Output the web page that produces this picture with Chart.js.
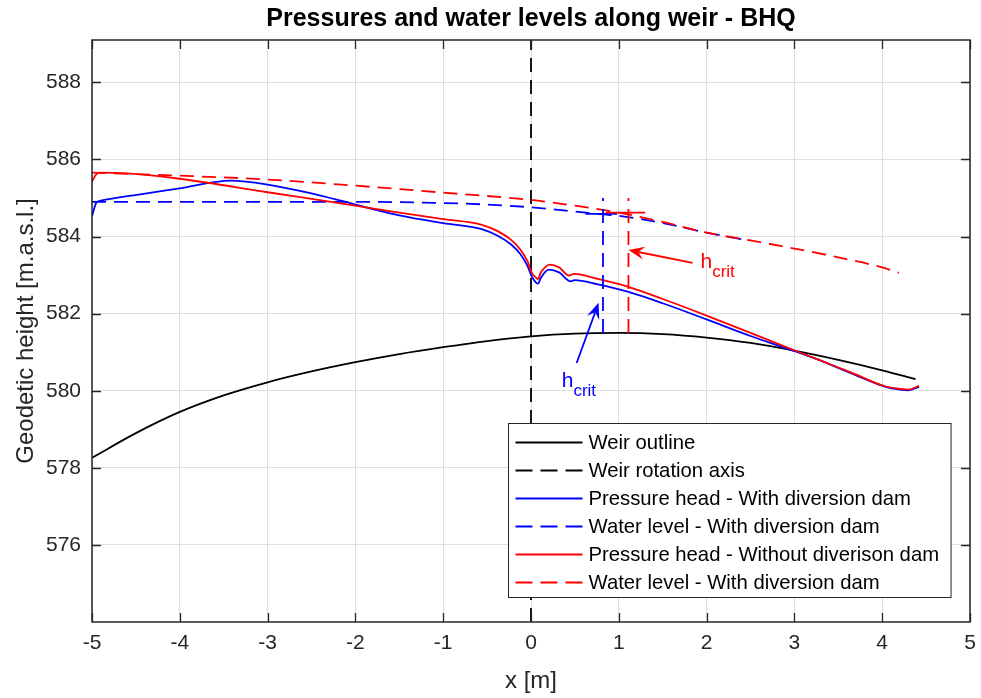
<!DOCTYPE html>
<html>
<head>
<meta charset="utf-8">
<title>Pressures and water levels along weir - BHQ</title>
<script src="https://cdn.jsdelivr.net/npm/chart.js@4.4.1/dist/chart.umd.min.js"></script>
<style>
  html, body { margin: 0; padding: 0; background: #fff; }
  #wrap { width: 981px; height: 698px; position: relative; }
</style>
</head>
<body>
<div id="wrap"><canvas id="weirChart"></canvas></div>
<script>
const FONT = "'Liberation Sans', Arial, Helvetica, sans-serif";
const TITLE = 'Pressures and water levels along weir - BHQ';

// axis limits and ticks
const xMin = -5, xMax = 5;
const yMin = 574, yMax = 589.1;
const xTicks = [-5, -4, -3, -2, -1, 0, 1, 2, 3, 4, 5];
const yTicks = [576, 578, 580, 582, 584, 586, 588];

// weir crest outline
const weirX = [-5, -4.5, -4, -3.5, -3, -2.5, -2, -1.5, -1, -0.5, 0, 0.5, 1, 1.5, 2, 2.5, 3, 3.5, 4, 4.38];
const weirY = [578.26, 578.9, 579.45, 579.88, 580.22, 580.5, 580.74, 580.95, 581.13, 581.29, 581.41, 581.48, 581.5, 581.47, 581.38, 581.24, 581.04, 580.8, 580.53, 580.3];

// rotation axis at x = 0
const rotAxisX = [0, 0];
const rotAxisY = [yMin, yMax];

// pressure head, with diversion dam
const phWithX = [-5, -4.95, -4.9, -4.47, -4, -3.42, -3, -2.5, -2, -1.5, -1, -0.57, -0.38, -0.23, -0.12, -0.04, 0.01, 0.06, 0.08, 0.11, 0.16, 0.2, 0.32, 0.45, 0.5, 0.76, 1.1, 1.5, 2, 2.5, 3, 3.3, 3.65, 4.04, 4.2, 4.3, 4.42];
const phWithY = [584.53, 584.88, 584.93, 585.09, 585.25, 585.45, 585.35, 585.12, 584.83, 584.55, 584.35, 584.2, 584.02, 583.8, 583.54, 583.24, 582.96, 582.8, 582.78, 582.92, 583.08, 583.14, 583.07, 582.84, 582.87, 582.76, 582.57, 582.27, 581.85, 581.42, 581.03, 580.78, 580.45, 580.1, 580.03, 580.01, 580.1];

// water level, with diversion dam
const wlWithX = [-5, -4, -3, -2, -1, -0.5, 0, 0.5, 0.8, 1, 1.5, 2, 2.4];
const wlWithY = [584.9, 584.9, 584.9, 584.9, 584.87, 584.83, 584.76, 584.65, 584.58, 584.54, 584.35, 584.1, 583.93];

// pressure head, without diversion dam
const phWithoutX = [-5, -4.95, -4.9, -4.6, -4, -3, -2, -1.5, -1, -0.57, -0.38, -0.23, -0.12, -0.04, 0.01, 0.06, 0.08, 0.11, 0.16, 0.21, 0.32, 0.43, 0.49, 0.76, 1.1, 1.5, 2, 2.5, 3, 3.3, 3.65, 4.04, 4.2, 4.3, 4.42];
const phWithoutY = [585.43, 585.62, 585.66, 585.64, 585.5, 585.15, 584.8, 584.62, 584.45, 584.31, 584.14, 583.92, 583.66, 583.36, 583.06, 582.93, 582.9, 583.06, 583.2, 583.27, 583.2, 582.99, 583.03, 582.9, 582.7, 582.38, 581.95, 581.5, 581.05, 580.78, 580.47, 580.11, 580.05, 580.03, 580.13];

// water level (second case)
const wlWithoutX = [-5, -4, -3, -2, -1, 0, 0.5, 1, 1.5, 2, 2.5, 3, 3.5, 4, 4.19];
const wlWithoutY = [585.66, 585.58, 585.48, 585.32, 585.14, 584.95, 584.8, 584.62, 584.38, 584.1, 583.9, 583.69, 583.46, 583.2, 583.06];

// critical depth markers
const critBlueX = [0.82, 0.82];
const critBlueY = [581.5, 585.0];
const critBlueBarX = [0.62, 0.98];
const critBlueBarY = [584.59, 584.59];
const critRedX = [1.11, 1.11];
const critRedY = [581.5, 585.0];
const critRedBarX = [0.85, 1.3];
const critRedBarY = [584.62, 584.62];

// arrows [from, to] and label anchors (data units)
const arrowBlue = [[0.52, 580.72], [0.77, 582.28]];
const arrowRed = [[1.84, 583.32], [1.11, 583.65]];
const labelBlue = [0.35, 580.1];
const labelRed = [1.93, 583.19];

const BLUE = '#0000ff', RED = '#ff0000', BLACK = '#000000';
const DASH = [14, 8];
const LEGEND_DASH = [17, 8];

const pts = (xs, ys) => xs.map((x, i) => ({ x: x, y: ys[i] }));

const lineSet = (label, xs, ys, color, dashed, order, smooth) => ({
    label: label,
    data: pts(xs, ys),
    borderColor: color,
    backgroundColor: color,
    borderWidth: 1.8,
    borderDash: dashed ? DASH : [],
    pointRadius: 0,
    fill: false,
    tension: 0,
    cubicInterpolationMode: smooth ? 'monotone' : 'default',
    order: order
});

const datasets = [
    lineSet('Weir outline', weirX, weirY, BLACK, false, 20, true),
    lineSet('Weir rotation axis', rotAxisX, rotAxisY, BLACK, true, 19),
    lineSet('Pressure head - With diversion dam', phWithX, phWithY, BLUE, false, 18, true),
    lineSet('Water level - With diversion dam', wlWithX, wlWithY, BLUE, true, 17, true),
    lineSet('Pressure head - Without diverison dam', phWithoutX, phWithoutY, RED, false, 16, true),
    lineSet('Water level - With diversion dam', wlWithoutX, wlWithoutY, RED, true, 15, true),
    lineSet('', critBlueX, critBlueY, BLUE, true, 14),
    lineSet('', critBlueBarX, critBlueBarY, BLUE, false, 13),
    lineSet('', critRedX, critRedY, RED, true, 12),
    lineSet('', critRedBarX, critRedBarY, RED, false, 11)
];
const LEGEND_COUNT = 6;

function drawArrow(ctx, x0, y0, x1, y1, color) {
    const ang = Math.atan2(y1 - y0, x1 - x0);
    const c = Math.cos(ang), s = Math.sin(ang);
    const len = 16, half = 6.5, notch = 10;
    ctx.strokeStyle = color;
    ctx.fillStyle = color;
    ctx.lineWidth = 1.8;
    ctx.beginPath();
    ctx.moveTo(x0, y0);
    ctx.lineTo(x1 - c * notch, y1 - s * notch);
    ctx.stroke();
    ctx.beginPath();
    ctx.moveTo(x1, y1);
    ctx.lineTo(x1 - len * c + half * s, y1 - len * s - half * c);
    ctx.lineTo(x1 - notch * c, y1 - notch * s);
    ctx.lineTo(x1 - len * c - half * s, y1 - len * s + half * c);
    ctx.closePath();
    ctx.fill();
}

function drawCritLabel(ctx, x, y, color) {
    ctx.fillStyle = color;
    ctx.textAlign = 'left';
    ctx.textBaseline = 'alphabetic';
    ctx.font = '21px ' + FONT;
    ctx.fillText('h', x, y);
    const w = ctx.measureText('h').width;
    ctx.font = '17px ' + FONT;
    ctx.fillText('crit', x + w, y + 9);
}

// title centred over the plot area
const axesTitle = {
    id: 'axesTitle',
    afterDraw(chart) {
        const { ctx, chartArea: a } = chart;
        ctx.save();
        ctx.fillStyle = '#000000';
        ctx.font = 'bold 25px ' + FONT;
        ctx.textAlign = 'center';
        ctx.textBaseline = 'middle';
        ctx.fillText(TITLE, (a.left + a.right) / 2, 19);
        ctx.restore();
    }
};

// box around the plot with inward tick marks on all four sides
const axesBox = {
    id: 'axesBox',
    afterDatasetsDraw(chart) {
        const { ctx, chartArea: a, scales: { x, y } } = chart;
        const tl = 9;
        ctx.save();
        ctx.strokeStyle = '#262626';
        ctx.lineWidth = 1.3;
        ctx.beginPath();
        x.ticks.forEach(t => {
            const px = Math.round(x.getPixelForValue(t.value)) + 0.5;
            ctx.moveTo(px, a.bottom); ctx.lineTo(px, a.bottom - tl);
            ctx.moveTo(px, a.top); ctx.lineTo(px, a.top + tl);
        });
        y.ticks.forEach(t => {
            const py = Math.round(y.getPixelForValue(t.value)) + 0.5;
            ctx.moveTo(a.left, py); ctx.lineTo(a.left + tl, py);
            ctx.moveTo(a.right, py); ctx.lineTo(a.right - tl, py);
        });
        ctx.stroke();
        ctx.lineWidth = 1.5;
        ctx.strokeRect(a.left, a.top, a.right - a.left, a.bottom - a.top);
        ctx.restore();
    }
};

// h_crit arrows, labels and the legend box
const annotations = {
    id: 'annotations',
    afterDraw(chart) {
        const { ctx, chartArea: a, scales: { x, y } } = chart;
        const px = p => [x.getPixelForValue(p[0]), y.getPixelForValue(p[1])];
        ctx.save();

        let f = px(arrowBlue[0]), t = px(arrowBlue[1]);
        drawArrow(ctx, f[0], f[1], t[0], t[1], BLUE);
        f = px(arrowRed[0]); t = px(arrowRed[1]);
        drawArrow(ctx, f[0], f[1], t[0], t[1], RED);
        let l = px(labelBlue);
        drawCritLabel(ctx, l[0], l[1], BLUE);
        l = px(labelRed);
        drawCritLabel(ctx, l[0], l[1], RED);

        // legend
        const sets = chart.data.datasets.slice(0, LEGEND_COUNT);
        ctx.font = '20.3px ' + FONT;
        const textW = Math.max(...sets.map(d => ctx.measureText(d.label).width));
        const padL = 7, sample = 67, gap = 6, padR = 12, rowH = 28, padT = 19, padB = 15;
        const boxW = padL + sample + gap + textW + padR;
        const boxH = padT + rowH * (sets.length - 1) + padB;
        const bx = Math.round(a.right - 19 - boxW) + 0.5;
        const by = Math.round(a.bottom - 25 - boxH) + 0.5;
        ctx.fillStyle = '#ffffff';
        ctx.fillRect(bx, by, boxW, boxH);
        ctx.strokeStyle = '#262626';
        ctx.lineWidth = 1;
        ctx.strokeRect(bx, by, boxW, boxH);
        sets.forEach((d, i) => {
            const ry = by + padT + i * rowH;
            ctx.strokeStyle = d.borderColor;
            ctx.lineWidth = 1.8;
            ctx.setLineDash(d.borderDash.length ? LEGEND_DASH : []);
            ctx.beginPath();
            ctx.moveTo(bx + padL, ry);
            ctx.lineTo(bx + padL + sample, ry);
            ctx.stroke();
            ctx.setLineDash([]);
            ctx.fillStyle = '#000000';
            ctx.textAlign = 'left';
            ctx.textBaseline = 'middle';
            ctx.fillText(d.label, bx + padL + sample + gap, ry + 1);
        });
        ctx.restore();
    }
};

new Chart(document.getElementById('weirChart'), {
    type: 'line',
    data: { datasets: datasets },
    options: {
        responsive: true,
        maintainAspectRatio: false,
        animation: false,
        layout: { padding: { left: 0, right: 11, top: 40, bottom: 0 } },
        plugins: {
            legend: { display: false },
            tooltip: { enabled: false },
            title: { display: false }
        },
        scales: {
            x: {
                type: 'linear',
                min: xMin,
                max: xMax,
                grid: { color: '#dfdfdf', lineWidth: 1, drawTicks: false },
                border: { display: false },
                ticks: { color: '#262626', font: { family: FONT, size: 21 }, padding: 9 },
                title: { display: true, text: 'x [m]', color: '#262626', font: { family: FONT, size: 24 }, padding: { top: 0, bottom: 2 } },
                afterBuildTicks: s => { s.ticks = xTicks.map(v => ({ value: v })); },
                afterFit: s => { s.height = 76; s.paddingLeft = 0; s.paddingRight = 0; }
            },
            y: {
                type: 'linear',
                min: yMin,
                max: yMax,
                grid: { color: '#dfdfdf', lineWidth: 1, drawTicks: false },
                border: { display: false },
                ticks: { color: '#262626', font: { family: FONT, size: 21 }, padding: 11 },
                title: { display: true, text: 'Geodetic height [m.a.s.l.]', color: '#262626', font: { family: FONT, size: 24 }, padding: { top: 12, bottom: 0 } },
                afterBuildTicks: s => { s.ticks = yTicks.map(v => ({ value: v })); },
                afterFit: s => { s.width = 92; s.paddingTop = 0; s.paddingBottom = 0; }
            }
        }
    },
    plugins: [axesBox, annotations, axesTitle]
});
</script>
</body>
</html>
